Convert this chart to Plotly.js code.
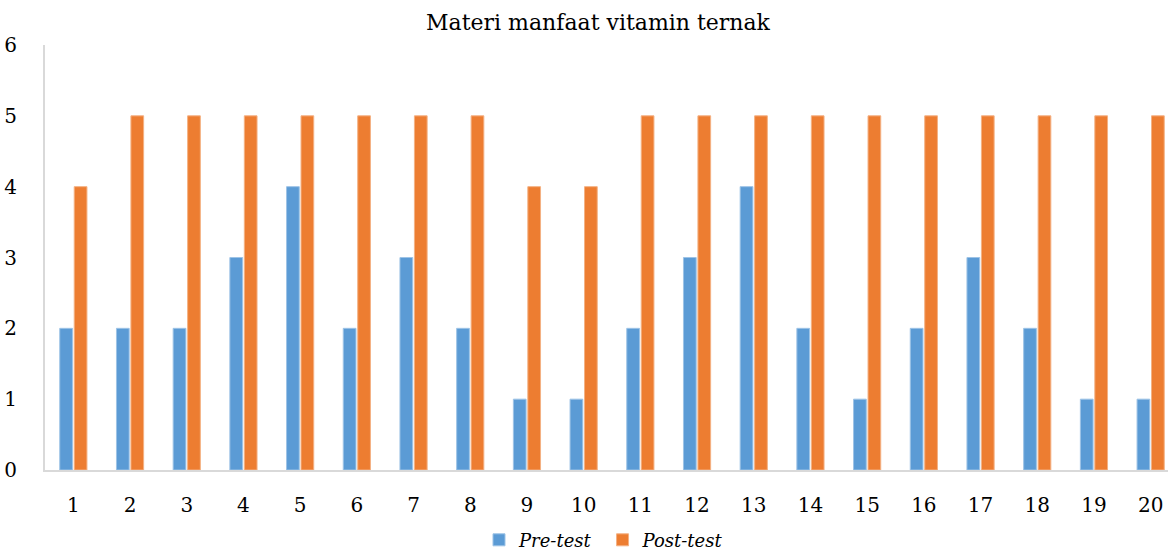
<!DOCTYPE html>
<html>
<head>
<meta charset="utf-8">
<script src="https://cdn.plot.ly/plotly-3.0.1.min.js"></script>
<style>html,body{margin:0;padding:0;background:#fff;overflow:hidden;}</style>
</head>
<body>
<div id="chart" style="width:1168px;height:551px;"></div>
<script>
const categories = ["1","2","3","4","5","6","7","8","9","10","11","12","13","14","15","16","17","18","19","20"];
const preTest  = [2,2,2,3,4,2,3,2,1,1,2,3,4,2,1,2,3,2,1,1];
const postTest = [4,5,5,5,5,5,5,5,4,4,5,5,5,5,5,5,5,5,5,5];
const seriesNames = ["Pre-test", "Post-test"];
const chartTitle = "Materi manfaat vitamin ternak";

const xIdx = categories.map((c, i) => i);
const fontFam = "DejaVu Serif, Liberation Serif, serif";

const traces = [
  {type:'bar', x:xIdx, y:preTest, name:'<i>'+seriesNames[0]+'</i> ',
   marker:{color:'#5B9BD5', line:{color:'#9DC3E6', width:1}}},
  {type:'bar', x:xIdx, y:postTest, name:'<i>'+seriesNames[1]+'</i> ',
   marker:{color:'#ED7D31', line:{color:'#F4B183', width:1}}}
];

const layout = {
  width:1168, height:551,
  margin:{l:45, r:0, t:45, b:81, autoexpand:false},
  paper_bgcolor:'#fff', plot_bgcolor:'#fff',
  barmode:'group', bargap:0.49, bargroupgap:0.12,
  title:{text:chartTitle, x:0.512, xanchor:'center', y:0.96, yanchor:'middle',
         font:{family:fontFam, size:22, color:'#000'}},
  xaxis:{tickmode:'array', tickvals:xIdx, ticktext:categories, range:[-0.5, 19.306],
         showgrid:false, zeroline:false, showline:true, linecolor:'#d9d9d9', linewidth:2,
         ticks:'', ticklabelstandoff:16, tickfont:{family:fontFam, size:20, color:'#000'}, fixedrange:true},
  yaxis:{range:[0,6], dtick:1, showgrid:false, zeroline:false, showline:true, linecolor:'#d9d9d9', linewidth:2,
         ticks:'', ticklabelstandoff:22, tickfont:{family:fontFam, size:20, color:'#000'}, fixedrange:true},
  showlegend:true,
  legend:{orientation:'h', x:0.5, xanchor:'center', y:-0.165, yanchor:'middle',
          font:{family:fontFam, size:18, color:'#000'}, itemwidth:30, traceorder:'normal'}
};

Plotly.newPlot('chart', traces, layout, {displayModeBar:false, staticPlot:true});
</script>
</body>
</html>
